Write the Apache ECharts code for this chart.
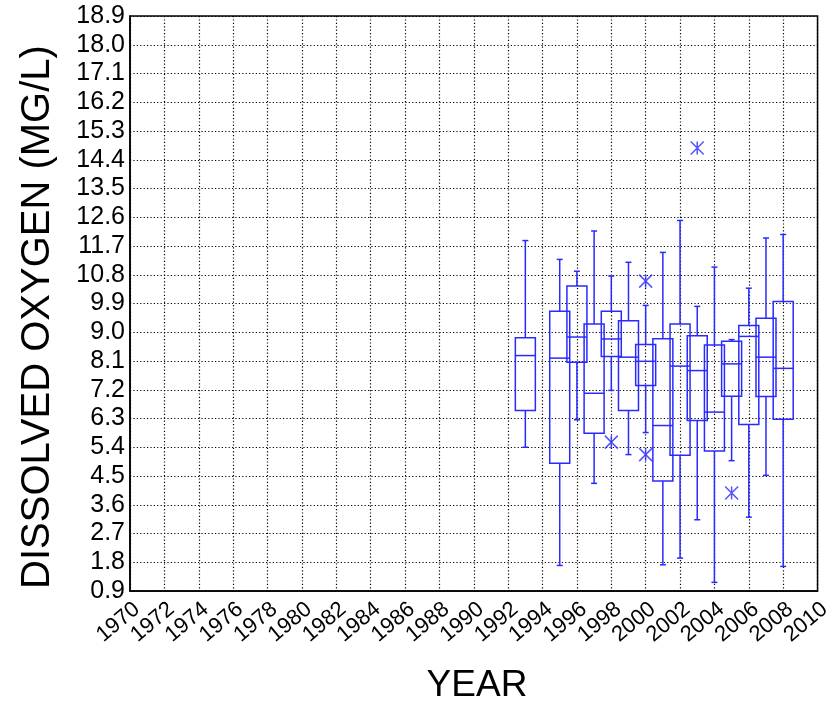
<!DOCTYPE html>
<html><head><meta charset="utf-8">
<script src="https://cdn.jsdelivr.net/npm/echarts@6/dist/echarts.min.js"></script>
<style>html,body{margin:0;padding:0;background:#fff}#c{width:834px;height:706px}</style>
</head><body><div id="c"></div>
<script>
// ---- data ----
const years       = [1993, 1995, 1996, 1997, 1998, 1999, 2000, 2001, 2002, 2003, 2004, 2005, 2006, 2007, 2008];
const whiskerLow  = [5.40, 1.70, 6.26, 4.27, 7.18, 5.17, 5.86, 1.72, 1.93, 3.13, 1.17, 4.98, 3.21, 4.52, 1.67];
const quartile1   = [6.55, 4.90, 8.06, 5.84, 8.24, 6.55, 7.33, 4.34, 5.15, 6.24, 5.28, 7.00, 6.11, 6.99, 6.28];
const medians     = [8.27, 8.19, 8.85, 7.09, 8.79, 8.22, 8.09, 6.08, 7.94, 7.80, 6.50, 8.01, 8.87, 8.22, 7.87];
const quartile3   = [8.83, 9.66, 10.45, 9.26, 9.66, 9.36, 8.62, 8.80, 9.26, 8.89, 8.60, 8.72, 9.21, 9.44, 9.96];
const whiskerHigh = [11.87, 11.28, 10.91, 12.17, 10.76, 11.19, 9.84, 11.50, 12.50, 9.81, 11.04, 8.77, 10.38, 11.95, 12.06];
const outlierYears  = [1998, 2000, 2000, 2003, 2005];
const outlierValues = [5.56, 10.60, 5.17, 14.77, 3.97];
const xMin = 1970, xMax = 2010, xStep = 2;
const yMin = 0.9, yMax = 18.9, yStep = 0.9;
const xTitle = 'YEAR';
const yTitle = 'DISSOLVED OXYGEN (MG/L)';

// ---- build ----
const BLUE = '#2a2aff';
const FONT = '"Liberation Sans", Arial, sans-serif';
const boxData = years.map((y, i) => [y, whiskerLow[i], quartile1[i], medians[i], quartile3[i], whiskerHigh[i]]);
const outData = outlierYears.map((y, i) => [y, outlierValues[i]]);
const gridLine = {show: true, lineStyle: {color: '#000', type: [1.2, 2.2], width: 1.2}};

const chart = echarts.init(document.getElementById('c'), null, {renderer: 'canvas'});
chart.setOption({
  animation: false,
  backgroundColor: '#fff',
  grid: {left: 130, right: 12, top: 16, bottom: 115, show: true, borderColor: '#000', borderWidth: 1.5, backgroundColor: 'transparent'},
  xAxis: {
    type: 'value', min: xMin, max: xMax, interval: xStep,
    axisLine: {show: true, lineStyle: {color: '#000', width: 1.5}},
    axisTick: {show: false},
    axisLabel: {rotate: 40, fontSize: 22, color: '#000', fontFamily: FONT, margin: 7, verticalAlign: 'top',
      showMinLabel: true, showMaxLabel: true, hideOverlap: false, interval: 0, formatter: v => String(v)},
    splitLine: gridLine
  },
  yAxis: {
    type: 'value', min: yMin, max: yMax, interval: yStep,
    axisLine: {show: true, lineStyle: {color: '#000', width: 1.5}},
    axisTick: {show: false},
    axisLabel: {fontSize: 25, color: '#000', fontFamily: FONT, margin: 5, showMinLabel: true, showMaxLabel: true, formatter: v => v.toFixed(1)},
    splitLine: gridLine
  },
  graphic: [
    {type: 'text', x: 477, y: 686, style: {text: xTitle, font: '37px ' + FONT, fill: '#000', textAlign: 'center', textVerticalAlign: 'middle'}},
    {type: 'text', x: 38, y: 317, rotation: Math.PI / 2, style: {text: yTitle, font: '40px ' + FONT, fill: '#000', textAlign: 'center', textVerticalAlign: 'middle'}}
  ],
  series: [
    {
      type: 'custom',
      data: boxData,
      encode: {x: 0, y: [1, 2, 3, 4, 5]},
      renderItem: function (params, api) {
        const x = api.value(0);
        const pL = api.coord([x, api.value(1)]);
        const p1 = api.coord([x, api.value(2)]);
        const pM = api.coord([x, api.value(3)]);
        const p3 = api.coord([x, api.value(4)]);
        const pH = api.coord([x, api.value(5)]);
        const half = 10, cap = 3;
        const st = {stroke: BLUE, lineWidth: 1.5, fill: 'none'};
        const cx = pM[0];
        return {type: 'group', children: [
          {type: 'rect', shape: {x: cx - half, y: p3[1], width: 2 * half, height: p1[1] - p3[1]}, style: st},
          {type: 'line', shape: {x1: cx - half, y1: pM[1], x2: cx + half, y2: pM[1]}, style: st},
          {type: 'line', shape: {x1: cx, y1: pH[1], x2: cx, y2: p3[1]}, style: st},
          {type: 'line', shape: {x1: cx, y1: p1[1], x2: cx, y2: pL[1]}, style: st},
          {type: 'line', shape: {x1: cx - cap, y1: pH[1], x2: cx + cap, y2: pH[1]}, style: st},
          {type: 'line', shape: {x1: cx - cap, y1: pL[1], x2: cx + cap, y2: pL[1]}, style: st}
        ]};
      }
    },
    {
      type: 'scatter',
      data: outData,
      symbol: 'path://M0,0L12,12M12,0L0,12M6,0L6,12',
      symbolSize: 13,
      itemStyle: {color: 'none', borderColor: BLUE, borderWidth: 1.5}
    }
  ]
});
</script></body></html>
